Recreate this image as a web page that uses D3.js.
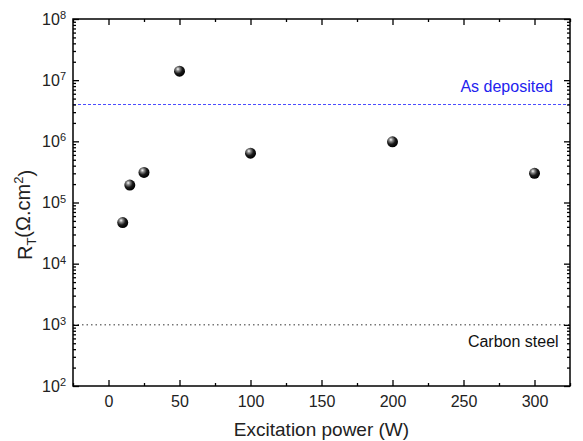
<!DOCTYPE html>
<html>
<head>
<meta charset="utf-8">
<script src="https://cdn.jsdelivr.net/npm/d3@7"></script>
<style>
  body { margin: 0; background: #fff; }
  svg { font-family: "Liberation Sans", Arial, sans-serif; display: block; }
</style>
</head>
<body>
<div id="chart"></div>
<script>
// Data
const powers = [10, 15, 25, 50, 100, 200, 300];
const resistances = [4.7e4, 1.93e5, 3.1e5, 1.4e7, 6.4e5, 9.8e5, 3.0e5];
const refNames = ['As deposited', 'Carbon steel'];
const refValues = [4e6, 1e3];
const xTicks = [0, 50, 100, 150, 200, 250, 300];
const yExponents = [2, 3, 4, 5, 6, 7, 8];

const W = 583, H = 441;
const margin = { top: 19, right: 13, bottom: 55, left: 73 };
const width = W - margin.left - margin.right;
const height = H - margin.top - margin.bottom;

const svg = d3.select('#chart').append('svg')
    .attr('width', W)
    .attr('height', H);

const defs = svg.append('defs');
const grad = defs.append('radialGradient')
    .attr('id', 'ball')
    .attr('cx', '38%').attr('cy', '35%').attr('r', '65%')
    .attr('fx', '35%').attr('fy', '30%');
grad.append('stop').attr('offset', '0%').attr('stop-color', '#ffffff');
grad.append('stop').attr('offset', '25%').attr('stop-color', '#8a8a8a');
grad.append('stop').attr('offset', '60%').attr('stop-color', '#1a1a1a');
grad.append('stop').attr('offset', '100%').attr('stop-color', '#000000');

const g = svg.append('g')
    .attr('transform', `translate(${margin.left},${margin.top})`);

const x = d3.scaleLinear().domain([-25, 325]).range([0, width]);
const y = d3.scaleLog().domain([1e2, 1e8]).range([height, 0]);

const minorX = d3.range(-25, 326, 25).filter(v => v % 50 !== 0);
const minorY = [];
yExponents.slice(0, -1).forEach(e => {
    for (let k = 2; k <= 9; k++) minorY.push(k * Math.pow(10, e));
});

// reference lines
g.append('line')
    .attr('x1', 0).attr('x2', width)
    .attr('y1', y(refValues[0])).attr('y2', y(refValues[0]))
    .attr('stroke', '#4b4bff')
    .attr('stroke-width', 1)
    .attr('stroke-dasharray', '3,2');

g.append('line')
    .attr('x1', 0).attr('x2', width)
    .attr('y1', y(refValues[1])).attr('y2', y(refValues[1]))
    .attr('stroke', '#333')
    .attr('stroke-width', 1)
    .attr('stroke-dasharray', '1.5,3');

g.append('text')
    .attr('x', x(313))
    .attr('y', y(refValues[0]) - 13)
    .attr('text-anchor', 'end')
    .attr('font-size', '16px')
    .attr('fill', '#2222ee')
    .text(refNames[0]);

g.append('text')
    .attr('x', x(317))
    .attr('y', y(refValues[1]) + 22)
    .attr('text-anchor', 'end')
    .attr('font-size', '16px')
    .attr('fill', '#111')
    .text(refNames[1]);

// Axes
function styleAxis(sel) {
    sel.select('.domain').remove();
    sel.selectAll('line').attr('stroke', '#000').attr('stroke-width', 1.3);
}

g.append('g')
    .attr('transform', `translate(0,${height})`)
    .call(d3.axisBottom(x).tickValues(xTicks).tickSize(-6).tickPadding(10))
    .call(styleAxis)
    .selectAll('text')
    .attr('font-size', '16px')
    .attr('fill', '#222');

g.append('g')
    .attr('transform', `translate(0,${height})`)
    .call(d3.axisBottom(x).tickValues(minorX).tickSize(-3).tickFormat(''))
    .call(styleAxis);

g.append('g')
    .call(d3.axisTop(x).tickValues(xTicks).tickSize(-6).tickFormat(''))
    .call(styleAxis);

g.append('g')
    .call(d3.axisTop(x).tickValues(minorX).tickSize(-3).tickFormat(''))
    .call(styleAxis);

const yAxis = g.append('g')
    .call(d3.axisLeft(y).tickValues(yExponents.map(e => Math.pow(10, e))).tickSize(-6).tickPadding(7))
    .call(styleAxis);

yAxis.selectAll('text')
    .attr('font-size', '16px')
    .attr('fill', '#222')
    .each(function(d) {
        const t = d3.select(this).text(null);
        t.append('tspan').text('10');
        t.append('tspan')
            .attr('dy', '-0.5em')
            .attr('font-size', '11px')
            .text(Math.round(Math.log10(d)));
    });

g.append('g')
    .call(d3.axisLeft(y).tickValues(minorY).tickSize(-3).tickFormat(''))
    .call(styleAxis);

g.append('g')
    .attr('transform', `translate(${width},0)`)
    .call(d3.axisRight(y).tickValues(yExponents.map(e => Math.pow(10, e))).tickSize(-6).tickFormat(''))
    .call(styleAxis);

g.append('g')
    .attr('transform', `translate(${width},0)`)
    .call(d3.axisRight(y).tickValues(minorY).tickSize(-3).tickFormat(''))
    .call(styleAxis);

// frame
g.append('rect')
    .attr('width', width)
    .attr('height', height)
    .attr('fill', 'none')
    .attr('stroke', '#000')
    .attr('stroke-width', 1.5);

// points
g.selectAll('.pt')
    .data(powers.map((p, i) => ({ p, r: resistances[i] })))
    .enter()
    .append('circle')
    .attr('class', 'pt')
    .attr('cx', d => x(d.p))
    .attr('cy', d => y(d.r))
    .attr('r', 5.5)
    .attr('fill', 'url(#ball)');

// axis titles
svg.append('text')
    .attr('x', margin.left + width / 2)
    .attr('y', 436)
    .attr('text-anchor', 'middle')
    .attr('font-size', '19px')
    .attr('fill', '#222')
    .text('Excitation power (W)');

const yt = svg.append('text')
    .attr('transform', `translate(32,215) rotate(-90)`)
    .attr('text-anchor', 'middle')
    .attr('font-size', '20px')
    .attr('fill', '#222');
yt.append('tspan').text('R');
yt.append('tspan').attr('dy', '0.3em').attr('font-size', '13px').text('T');
yt.append('tspan').attr('dy', '-0.3em').text('(\u03A9.cm');
yt.append('tspan').attr('dy', '-0.5em').attr('font-size', '13px').text('2');
yt.append('tspan').attr('dy', '0.5em').text(')');
</script>
</body>
</html>
